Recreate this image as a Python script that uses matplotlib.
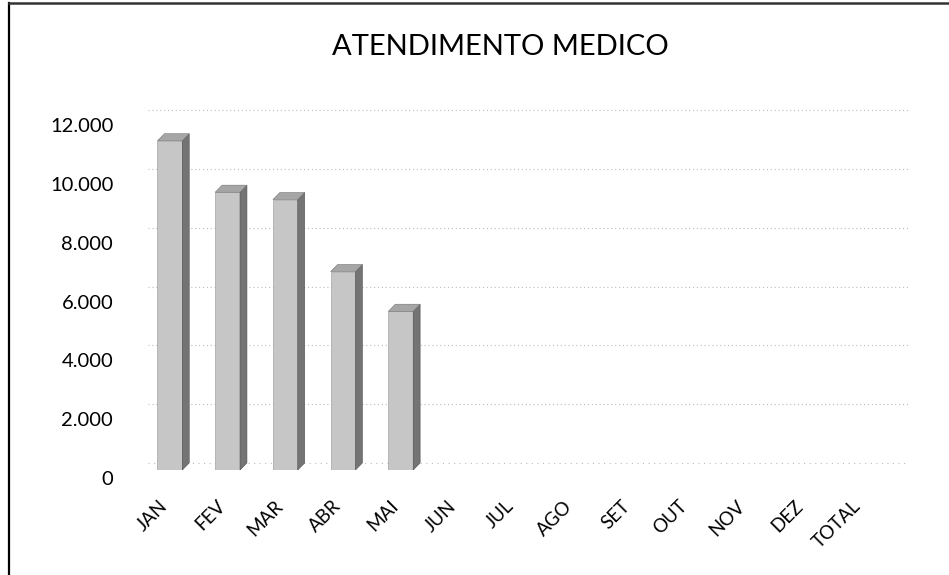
"""
ATENDIMENTO MEDICO - monthly medical attendances (Excel-style 3D columns)
Output: out.png
"""

import matplotlib
matplotlib.use("Agg")
import matplotlib.pyplot as plt
import matplotlib.transforms as mtransforms
from matplotlib.patches import Polygon
import numpy as np

# ── data ──────────────────────────────────────────────────────────────────────
months = ["JAN", "FEV", "MAR", "ABR", "MAI", "JUN", "JUL", "AGO",
          "SET", "OUT", "NOV", "DEZ", "TOTAL"]
atendimentos = [11200, 9450, 9200, 6750, 5400]   # only Jan..Mai filled in
y_ticks = [0, 2000, 4000, 6000, 8000, 10000, 12000]

# ── colours ───────────────────────────────────────────────────────────────────
C_FRONT = "#c6c6c6"
C_SIDE = "#747474"
C_TOP = "#a6a6a6"
C_GRID = "#bcbcbc"

plt.rcParams["font.family"] = ["Lato", "DejaVu Sans"]

fig = plt.figure(figsize=(9.49, 5.75), dpi=100)
ax = fig.add_axes([0.1486, 0.1826, 0.809, 0.639])

bar_w = 0.43
dx, dy = 0.12, 240   # fake 3D depth (x in categories, y in data units)

x = np.arange(len(atendimentos))
ax.bar(x, atendimentos, bar_w, color=C_FRONT, edgecolor="#959595", linewidth=0.4, zorder=3)
for xi, v in zip(x, atendimentos):
    r = xi + bar_w / 2
    l = xi - bar_w / 2
    ax.add_patch(Polygon([(r, 0), (r + dx, dy), (r + dx, v + dy), (r, v)],
                         closed=True, facecolor=C_SIDE, edgecolor="#505050", linewidth=0.4, zorder=3))
    ax.add_patch(Polygon([(l, v), (l + dx, v + dy), (r + dx, v + dy), (r, v)],
                         closed=True, facecolor=C_TOP, edgecolor="#747474", linewidth=0.4, zorder=3))

# back-wall gridlines (shifted by depth)
for t in y_ticks[1:]:
    ax.plot([-0.5 + dx, 12.8], [t + dy, t + dy], color=C_GRID, lw=0.8,
            linestyle=(0, (1, 2.5)), zorder=1)
ax.plot([-0.5 + dx, 12.8], [dy, dy], color=C_GRID, lw=0.8, linestyle=(0, (1, 4)), zorder=1)

ax.set_xlim(-0.5, 12.8)
ax.set_ylim(0, 12500)
ax.set_xticks(np.arange(len(months)))
ax.set_xticklabels(months, rotation=45, ha="right", rotation_mode="anchor", fontsize=13.5)
ax.set_yticks(y_ticks)
ax.set_yticklabels([f"{t:,}".replace(",", ".") for t in y_ticks], fontsize=14.5)
ax.tick_params(length=0, pad=20, axis="y")
ax.tick_params(length=0, pad=6, axis="x")

# labels sit slightly below the front floor, like the original
shift = mtransforms.ScaledTranslation(0, -8 / 100, fig.dpi_scale_trans)
for lbl in ax.get_yticklabels():
    lbl.set_transform(lbl.get_transform() + shift)
shift_x = mtransforms.ScaledTranslation(-11 / 100, -19 / 100, fig.dpi_scale_trans)
for lbl in ax.get_xticklabels():
    lbl.set_transform(lbl.get_transform() + shift_x)

for s in ax.spines.values():
    s.set_visible(False)

fig.text(0.527, 0.918, "ATENDIMENTO MEDICO", ha="center", va="center", fontsize=21)

# chart frame (left and top only, the rest is cut off in the scan)
fig.add_artist(plt.Line2D([0.0095, 0.0095], [0, 0.995], color="black", lw=1.6))
fig.add_artist(plt.Line2D([0.0095, 1.0], [0.995, 0.995], color="#333333", lw=1.8))

plt.savefig("out.png", dpi=100)
